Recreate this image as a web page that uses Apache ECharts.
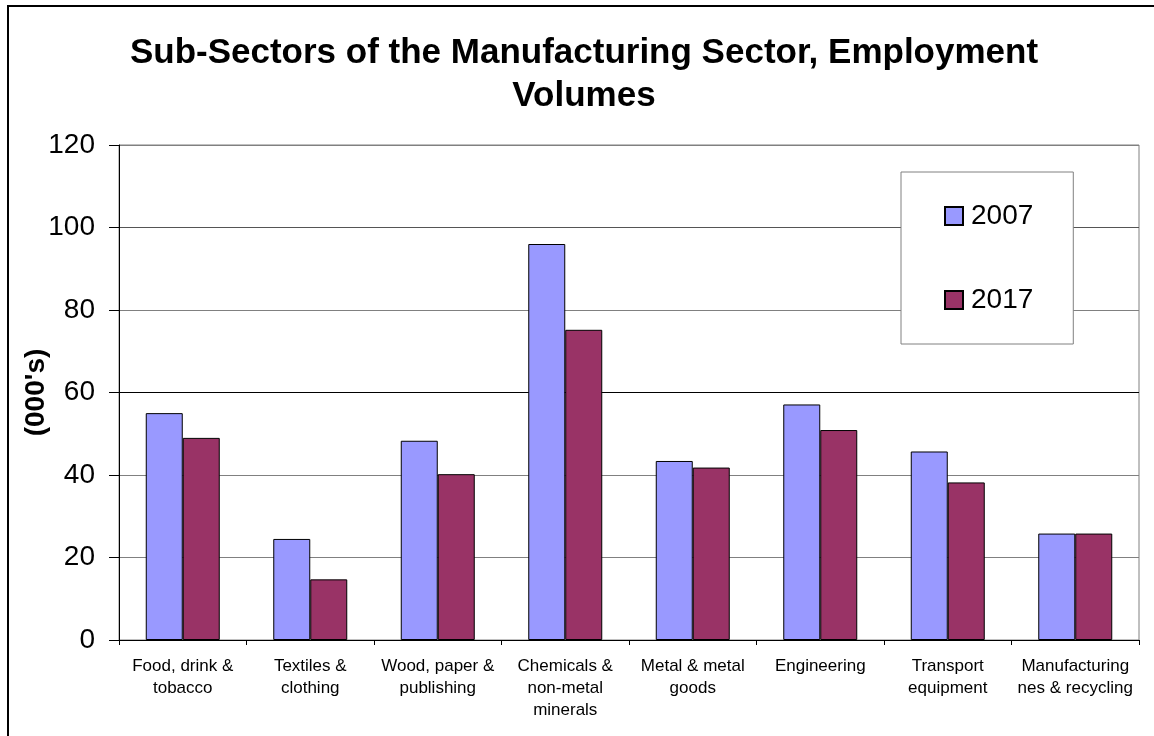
<!DOCTYPE html>
<html>
<head>
<meta charset="utf-8">
<script src="https://cdn.jsdelivr.net/npm/echarts@6/dist/echarts.min.js"></script>
<style>
html,body{margin:0;padding:0;background:#fff;}
#chart{width:1154px;height:736px;}
</style>
</head>
<body>
<div id="chart"></div>
<script>
const categories = [
  "Food, drink &\ntobacco",
  "Textiles &\nclothing",
  "Wood, paper &\npublishing",
  "Chemicals &\nnon-metal\nminerals",
  "Metal & metal\ngoods",
  "Engineering",
  "Transport\nequipment",
  "Manufacturing\nnes & recycling"
];
const values2007 = [55, 24.5, 48.3, 96, 43.4, 57.1, 45.7, 25.8];
const values2017 = [49, 14.7, 40.2, 75.2, 41.8, 50.9, 38.2, 25.8];
const seriesNames = ["2007", "2017"];
const yTicks = [0, 20, 40, 60, 80, 100, 120];

const FONT = "'Liberation Sans', Arial, sans-serif";
const chart = echarts.init(document.getElementById('chart'), null, {renderer: 'canvas'});
chart.setOption({
  animation: false,
  backgroundColor: '#fff',
  textStyle: {fontFamily: FONT, color: '#000'},
  title: {
    text: 'Sub-Sectors of the Manufacturing Sector, Employment\nVolumes',
    left: 584,
    top: 32,
    padding: 0,
    textAlign: 'center',
    textStyle: {fontFamily: FONT, fontSize: 35, fontWeight: 'bold', color: '#000', lineHeight: 43}
  },
  graphic: [{
    type: 'rect',
    silent: true,
    shape: {x: 8, y: 6, width: 1170, height: 800},
    style: {fill: 'none', stroke: '#000', lineWidth: 2},
    z: -1
  }],
  legend: {
    orient: 'vertical',
    left: 901,
    top: 172,
    padding: [30, 40, 30, 43],
    itemGap: 56,
    itemWidth: 18,
    itemHeight: 18,
    backgroundColor: '#fff',
    borderColor: '#808080',
    borderWidth: 1,
    icon: 'rect',
    textStyle: {fontFamily: FONT, fontSize: 28, color: '#000', lineHeight: 28, padding: [0, 0, 0, 3]},
    data: seriesNames
  },
  grid: {
    left: 119, right: 15, top: 145, bottom: 96,
    show: true, borderColor: '#808080', borderWidth: 1,
    containLabel: false,
    outerBoundsMode: 'none'
  },
  xAxis: {
    type: 'category',
    data: categories,
    axisLine: {lineStyle: {color: '#000', width: 1}},
    axisTick: {show: true, length: 5, lineStyle: {color: '#000'}},
    axisLabel: {
      interval: 0, fontFamily: FONT, fontSize: 17, lineHeight: 22, color: '#000', margin: 15
    }
  },
  yAxis: {
    type: 'value',
    min: 0, max: 120, interval: 20,
    name: "(000's)",
    nameLocation: 'middle',
    nameRotate: 90,
    nameGap: 69,
    nameMoveOverlap: false,
    nameTextStyle: {fontFamily: FONT, fontSize: 28, fontWeight: 'bold', color: '#000'},
    axisLine: {show: true, lineStyle: {color: '#000', width: 1}},
    axisTick: {show: true, length: 10, lineStyle: {color: '#000'}},
    axisLabel: {
      fontFamily: FONT, fontSize: 28, color: '#000', margin: 24,
      formatter: function (v) { return yTicks.indexOf(v) >= 0 ? String(v) : ''; }
    },
    splitLine: {
      show: true,
      lineStyle: {color: ['#808080', '#808080', '#808080', '#000', '#808080', '#555', '#808080'], width: 1}
    }
  },
  series: [
    {
      name: seriesNames[0], type: 'bar', data: values2007,
      barWidth: 37, barGap: '0%',
      itemStyle: {color: '#9999FF', borderColor: '#000', borderWidth: 1}
    },
    {
      name: seriesNames[1], type: 'bar', data: values2017,
      barWidth: 37, barGap: '0%',
      itemStyle: {color: '#993366', borderColor: '#000', borderWidth: 1}
    }
  ]
});
</script>
</body>
</html>
